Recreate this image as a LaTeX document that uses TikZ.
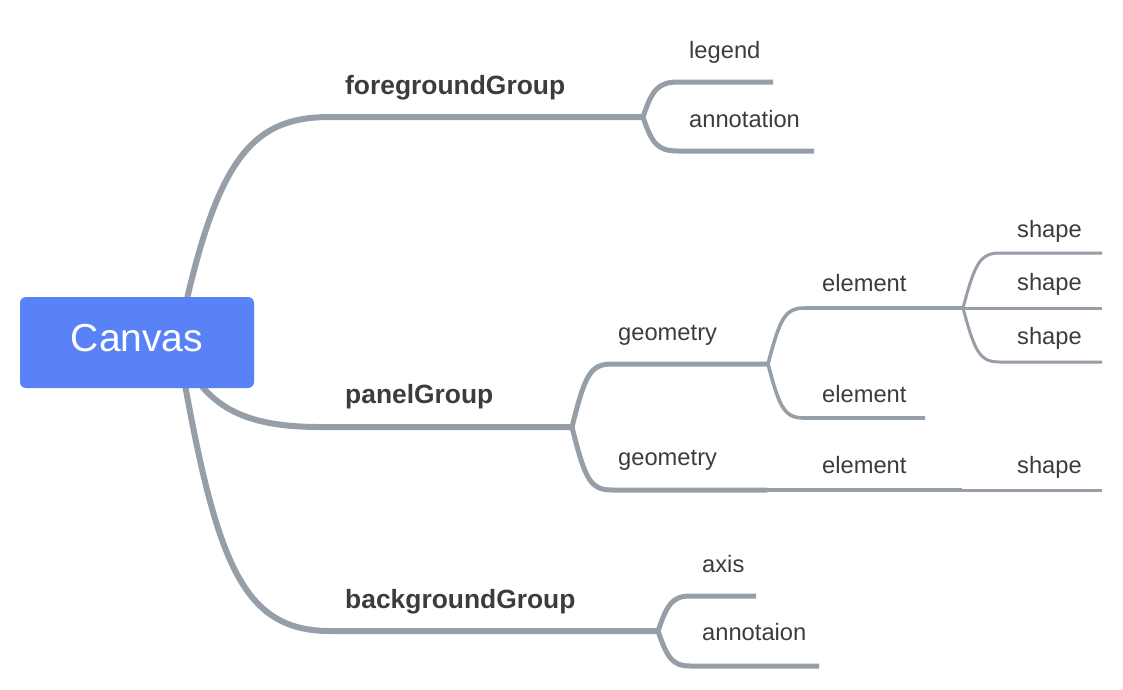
\documentclass[tikz,border=0pt]{standalone}
\usepackage{fontspec}
\setmainfont{Liberation Sans}
\definecolor{linegray}{RGB}{150,158,167}
\definecolor{txtgray}{RGB}{60,60,60}
\definecolor{canvasblue}{RGB}{89,130,247}
\begin{document}
\begin{tikzpicture}[x=1pt,y=-1pt,
  lvA/.style={draw=linegray,line width=6pt},
  lvB/.style={draw=linegray,line width=5pt},
  lvC/.style={draw=linegray,line width=3.6pt},
  lvD/.style={draw=linegray,line width=3pt},
  lbl/.style={anchor=base west,inner sep=0pt,text=txtgray,font=\fontsize{23.7}{24}\selectfont},
  blbl/.style={anchor=base west,inner sep=0pt,text=txtgray,font=\bfseries\fontsize{26.4}{27}\selectfont}]
\useasboundingbox (0,0) rectangle (1123,689);
% coordinates
\coordinate (cvA) at (178,340);
\coordinate (cvB) at (190,370);
\coordinate (cvC) at (178,345);
\coordinate (fgH) at (330,117);
\coordinate (fgfork) at (643,117);
\coordinate (fgu) at (678,82);
\coordinate (legendE) at (773,82);
\coordinate (fgl) at (678,151);
\coordinate (annotE) at (814,151);
\coordinate (pH) at (320,427);
\coordinate (pfork) at (572,427);
\coordinate (pu) at (612,364);
\coordinate (efork) at (768,364);
\coordinate (pl) at (612,490);
\coordinate (jA) at (767,490);
\coordinate (jB) at (962,490);
\coordinate (eu) at (805,308);
\coordinate (sfork) at (963,308);
\coordinate (el) at (805,418);
\coordinate (elE) at (925,418);
\coordinate (su) at (1000,253);
\coordinate (suE) at (1102,253);
\coordinate (smE) at (1102,308);
\coordinate (sl) at (1000,362);
\coordinate (slE) at (1102,362);
\coordinate (s4E) at (1102,490);
\coordinate (bgH) at (330,631);
\coordinate (bgfork) at (658,631);
\coordinate (bgu) at (690,596);
\coordinate (axisE) at (756,596);
\coordinate (bgl) at (690,666);
\coordinate (annot2E) at (819,666);
% main branches
\draw[lvA] (cvA) .. controls (215,160) and (250,117) .. (fgH) -- (fgfork);
\draw[lvA] (cvB) .. controls (215,410) and (250,427) .. (pH) -- (pfork);
\draw[lvA] (cvC) .. controls (215,560) and (240,631) .. (bgH) -- (bgfork);
% foreground
\draw[lvB] (fgfork) .. controls (652,90) and (658,82) .. (fgu) -- (legendE);
\draw[lvB] (fgfork) .. controls (652,144) and (658,151) .. (fgl) -- (annotE);
% panel
\draw[lvB] (pfork) .. controls (585,375) and (590,364) .. (pu) -- (efork);
\draw[lvB] (pfork) .. controls (585,479) and (590,490) .. (pl) -- (jA);
\draw[lvC] (efork) .. controls (780,318) and (785,308) .. (eu) -- (sfork);
\draw[lvC] (efork) .. controls (780,410) and (785,418) .. (el) -- (elE);
\draw[lvC] (jA) -- (jB);
\draw[lvD] (sfork) .. controls (975,263) and (980,253) .. (su) -- (suE);
\draw[lvD] (sfork) -- (smE);
\draw[lvD] (sfork) .. controls (975,353) and (980,362) .. (sl) -- (slE);
\draw[lvD] (jB) -- (s4E);
% background
\draw[lvB] (bgfork) .. controls (667,605) and (672,596) .. (bgu) -- (axisE);
\draw[lvB] (bgfork) .. controls (667,657) and (672,666) .. (bgl) -- (annot2E);
% root
\node[fill=canvasblue,rounded corners=6pt,minimum width=234pt,minimum height=91pt,
  text=white,font=\fontsize{39}{40}\selectfont,text depth=10pt,inner sep=0pt] (canvas) at (137,342.5) {Canvas};
% labels
\node[blbl] (fg) at (345,94) {foregroundGroup};
\node[blbl] (panel) at (345,403) {panelGroup};
\node[blbl] (bg) at (345,608) {backgroundGroup};
\node[lbl] (legend) at (689,58) {legend};
\node[lbl] (annot1) at (689,127) {annotation};
\node[lbl] (geo1) at (618,340) {geometry};
\node[lbl] (geo2) at (618,465) {geometry};
\node[lbl] (el1) at (822,291) {element};
\node[lbl] (el2) at (822,402) {element};
\node[lbl] (el3) at (822,473) {element};
\node[lbl] (sh1) at (1017,237) {shape};
\node[lbl] (sh2) at (1017,290) {shape};
\node[lbl] (sh3) at (1017,344) {shape};
\node[lbl] (sh4) at (1017,473) {shape};
\node[lbl] (axis) at (702,572) {axis};
\node[lbl] (annot2) at (702,640) {annotaion};
\end{tikzpicture}
\end{document}
